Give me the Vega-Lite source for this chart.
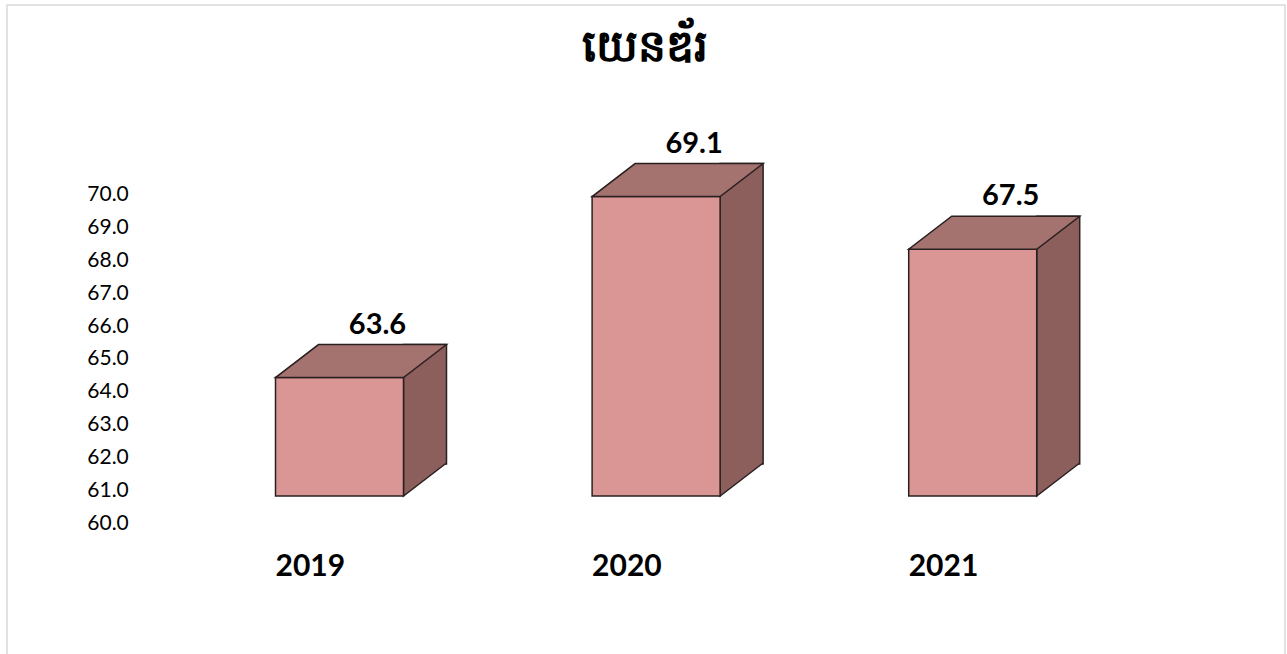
{
  "$schema": "https://vega.github.io/schema/vega-lite/v6.json",
  "width": 1278,
  "height": 660,
  "autosize": {"type": "none"},
  "padding": {"left": 7, "top": 5, "right": 2, "bottom": 0},
  "background": "white",
  "config": {
    "view": {"stroke": "#d9d9d9", "strokeWidth": 1.5},
    "font": "Lato"
  },
  "title": {
    "text": "យេនឌ័រ",
    "fontSize": 44,
    "fontWeight": "bold",
    "color": "#000000",
    "anchor": "middle",
    "dx": -1,
    "dy": 69
  },
  "data": {
    "values": [
      {"year": "2019", "value": 63.6},
      {"year": "2020", "value": 69.1},
      {"year": "2021", "value": 67.5}
    ]
  },
  "encoding": {
    "x": {
      "field": "year",
      "type": "nominal",
      "sort": null,
      "scale": {"paddingInner": 0, "paddingOuter": 0.5183, "align": 0.5308, "round": false},
      "axis": {
        "title": null,
        "domain": false,
        "ticks": false,
        "tickSize": 0,
        "grid": false,
        "labelAngle": 0,
        "labelAlign": "left",
        "labelBaseline": "top",
        "labelOffset": -64,
        "labelPadding": -114,
        "labelFontSize": 30,
        "labelFontWeight": "bold",
        "labelColor": "#000000",
        "labelFont": "Lato"
      }
    }
  },
  "layer": [
    {
      "mark": {"type": "bar", "width": 43, "xOffset": 85.5, "yOffset": -33, "y2Offset": -32, "fill": "#8c5f5d", "stroke": "#2b2020", "strokeWidth": 1.5},
      "encoding": {
        "y": {
          "field": "value",
          "type": "quantitative",
          "scale": {"domain": [54.863, 74.924], "zero": false, "nice": false},
          "axis": {
            "title": null,
            "values": [60, 61, 62, 63, 64, 65, 66, 67, 68, 69, 70],
            "format": ".1f",
            "domain": false,
            "ticks": false,
            "tickSize": 0,
            "grid": false,
            "labelAlign": "right",
            "labelPadding": -121.3,
            "labelOffset": 27.5,
            "labelFontSize": 21,
            "labelColor": "#000000",
            "labelFont": "Lato"
          }
        },
        "y2": {"datum": 60}
      }
    },
    {
      "mark": {"type": "point", "shape": "M 1.07 -0.33 L 0.64 0 L 0.64 -0.33", "size": 40000, "filled": true, "fill": "#8c5f5d", "stroke": "#2b2020", "strokeWidth": 1.5, "opacity": 1, "fillOpacity": 1, "strokeOpacity": 1},
      "encoding": {
        "y": {"datum": 60, "type": "quantitative"}
      }
    },
    {
      "mark": {"type": "bar", "width": 128, "fill": "#d99694", "stroke": "#2b2020", "strokeWidth": 1.5},
      "encoding": {
        "y": {"field": "value", "type": "quantitative"},
        "y2": {"datum": 60}
      }
    },
    {
      "mark": {"type": "point", "shape": "M -0.64 0 L 0.64 0 L 1.07 -0.33 L -0.21 -0.33 Z", "size": 40000, "filled": true, "fill": "#a5736f", "stroke": "#2b2020", "strokeWidth": 1.5, "opacity": 1, "fillOpacity": 1, "strokeOpacity": 1},
      "encoding": {
        "y": {"field": "value", "type": "quantitative"}
      }
    },
    {
      "mark": {"type": "text", "dx": 38, "dy": -44, "align": "center", "baseline": "alphabetic", "fontSize": 29, "fontWeight": "bold", "font": "Lato", "color": "#000000"},
      "encoding": {
        "y": {"field": "value", "type": "quantitative"},
        "text": {"field": "value", "type": "quantitative", "format": ".1f"}
      }
    }
  ]
}
